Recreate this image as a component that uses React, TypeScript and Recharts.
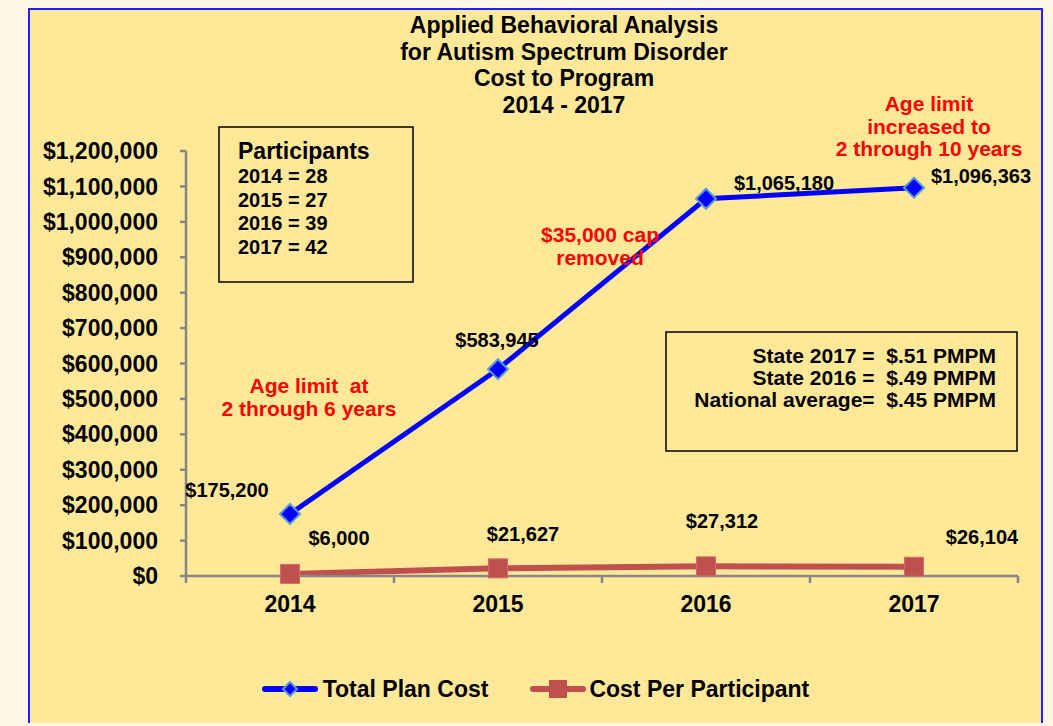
import React from 'react';
import { ComposedChart, Line, XAxis, YAxis, Legend } from 'recharts';

const years = ['2014', '2015', '2016', '2017'];
const totalPlanCost = [175200, 583945, 1065180, 1096363];
const costPerParticipant = [6000, 21627, 27312, 26104];
const yTicks = [0, 100000, 200000, 300000, 400000, 500000, 600000, 700000, 800000, 900000, 1000000, 1100000, 1200000];

const titleLines = ['Applied Behavioral Analysis', 'for Autism Spectrum Disorder', 'Cost to Program', '2014 - 2017'];
const participantLines = ['2014 = 28', '2015 = 27', '2016 = 39', '2017 = 42'];
const pmpmLines = ['State 2017 =  $.51 PMPM', 'State 2016 =  $.49 PMPM', 'National average=  $.45 PMPM'];
const note2014 = ['Age limit  at', '2 through 6 years'];
const noteCap = ['$35,000 cap', 'removed'];
const note2017 = ['Age limit', 'increased to', '2 through 10 years'];
const seriesOrder = ['total', 'perParticipant'];

const data = years.map((year, i) => ({
  year,
  total: totalPlanCost[i],
  perParticipant: costPerParticipant[i],
}));

// where each value label sits relative to its point (dx, baseline dy)
const totalLabelOffsets = [[-63, -17], [-1, -22], [78, -9], [67, -5]];
const perLabelOffsets = [[49, -29], [25, -27], [16, -38], [68, -23]];

const FONT = "'Liberation Sans', Arial, Helvetica, sans-serif";
const BLUE = '#0000FF';
const RED = '#C0504D';
const GREY = '#868686';
const X_TICK_MARGIN = 20;

const money = (v: number) => '$' + v.toLocaleString('en-US');

const Diamond = (props: any) => {
  const { cx, cy, index } = props;
  const r = 10;
  return (
    <polygon
      key={`dia-${index}`}
      points={`${cx},${cy - r} ${cx + r},${cy} ${cx},${cy + r} ${cx - r},${cy}`}
      fill={BLUE}
      stroke="#5B9BD5"
      strokeWidth={2}
    />
  );
};

const Square = (props: any) => {
  const { cx, cy, index } = props;
  const s = 19;
  return <rect key={`sq-${index}`} x={cx - s / 2} y={cy - s / 2} width={s} height={s} fill={RED} stroke="#D46A66" strokeWidth={1} />;
};

const makeLabel = (offsets: number[][]) => (props: any) => {
  const x = props.x ?? props.viewBox?.x;
  const y = props.y ?? props.viewBox?.y;
  const [dx, dy] = offsets[props.index] || [0, 0];
  return (
    <text key={`lbl-${props.index}`} x={x + dx} y={y + dy} textAnchor="middle" fontSize={20} fontWeight="bold" fill="#000">
      {money(props.value)}
    </text>
  );
};

// category label plus the small tick marks on the band boundaries (Excel style)
const YearTick = (props: any) => {
  const { x, y, payload, index, visibleTicksCount } = props;
  const half = payload.offset || 0;
  const axisY = y - X_TICK_MARGIN;
  const last = index === (visibleTicksCount ?? years.length) - 1;
  return (
    <g>
      <line x1={x - half} y1={axisY} x2={x - half} y2={axisY + 7} stroke={GREY} strokeWidth={2.5} />
      {last && <line x1={x + half} y1={axisY} x2={x + half} y2={axisY + 7} stroke={GREY} strokeWidth={2.5} />}
      <text x={x} y={y} dy="0.71em" textAnchor="middle" fontSize={23} fontWeight="bold" fill="#000">
        {payload.value}
      </text>
    </g>
  );
};

const LegendIcon = ({ kind }: { kind: string }) => (
  <svg width={56} height={20} style={{ display: 'block' }}>
    {kind === 'total' ? (
      <>
        <line x1={3} y1={10} x2={53} y2={10} stroke={BLUE} strokeWidth={6} strokeLinecap="round" />
        <polygon points="28,3 35,10 28,17 21,10" fill={BLUE} stroke="#5B9BD5" strokeWidth={2} />
      </>
    ) : (
      <>
        <line x1={3} y1={10} x2={53} y2={10} stroke={RED} strokeWidth={6} strokeLinecap="round" />
        <rect x={19} y={1} width={18} height={18} fill={RED} />
      </>
    )}
  </svg>
);

const renderLegend = (props: any) => {
  const items = [...(props.payload || [])].sort(
    (a: any, b: any) => seriesOrder.indexOf(a.dataKey) - seriesOrder.indexOf(b.dataKey)
  );
  return (
    <div style={{ display: 'flex', justifyContent: 'center', alignItems: 'center', height: 30, fontFamily: FONT, fontSize: 23, fontWeight: 'bold', color: '#000' }}>
      {items.map((it: any, i: number) => (
        <div key={it.dataKey} style={{ display: 'flex', alignItems: 'center', marginLeft: i === 0 ? 0 : 42 }}>
          <LegendIcon kind={it.dataKey} />
          <span style={{ marginLeft: i === 0 ? 5 : 3 }}>{it.value}</span>
        </div>
      ))}
    </div>
  );
};

const redText = (lines: string[], cx: number, y0: number, step: number, key: string) =>
  lines.map((t, i) => (
    <text key={`${key}-${i}`} x={cx} y={y0 + i * step} textAnchor="middle" fontSize={21} fill="#FF0000" style={{ whiteSpace: 'pre' }}>
      {t}
    </text>
  ));

export default function App() {
  return (
    <div style={{ position: 'absolute', left: 0, top: 0, width: 1053, height: 726, background: '#FFF7E4', fontFamily: FONT, overflow: 'hidden' }}>
      <div
        style={{
          position: 'absolute',
          left: 28,
          top: 8,
          width: 1015,
          height: 715,
          background: '#FFE999',
          borderTop: '2px solid #2020FF',
          borderLeft: '2px solid #2020FF',
          borderRight: '2px solid #2020FF',
          boxSizing: 'border-box',
        }}
      />
      <div style={{ position: 'absolute', left: 0, top: 0 }}>
        <ComposedChart width={1053} height={726} data={data} margin={{ top: 151, right: 35, bottom: 20, left: 36 }}>
          <XAxis
            dataKey="year"
            type="category"
            scale="band"
            height={100}
            axisLine={{ stroke: GREY, strokeWidth: 2.5 }}
            tickLine={false}
            tickSize={0}
            tickMargin={X_TICK_MARGIN}
            interval={0}
            tick={<YearTick />}
          />
          <YAxis
            domain={[0, 1200000]}
            ticks={yTicks}
            interval={0}
            tickFormatter={money}
            width={150}
            tickSize={6}
            tickMargin={22}
            axisLine={{ stroke: GREY, strokeWidth: 2.5 }}
            tickLine={{ stroke: GREY, strokeWidth: 2.5 }}
            tick={{ fill: '#000', fontSize: 23, fontWeight: 'bold' }}
          />
          <Legend
            content={renderLegend}
            wrapperStyle={{ position: 'absolute', left: 28, width: 1015, top: 674, height: 30 }}
          />
          <Line
            dataKey="total"
            name="Total Plan Cost"
            stroke={BLUE}
            strokeWidth={5}
            dot={Diamond}
            activeDot={false}
            label={makeLabel(totalLabelOffsets)}
            isAnimationActive={false}
          />
          <Line
            dataKey="perParticipant"
            name="Cost Per Participant"
            stroke={RED}
            strokeWidth={6}
            dot={Square}
            activeDot={false}
            label={makeLabel(perLabelOffsets)}
            isAnimationActive={false}
          />
        </ComposedChart>
      </div>
      <svg width={1053} height={726} style={{ position: 'absolute', left: 0, top: 0, pointerEvents: 'none' }} fontFamily={FONT} fontWeight="bold">
        {titleLines.map((t, i) => (
          <text key={`t-${i}`} x={564} y={33 + i * 26.5} textAnchor="middle" fontSize={23} fill="#000">
            {t}
          </text>
        ))}
        <rect x={219} y={127} width={194} height={155} fill="none" stroke="#000" strokeWidth={1.5} />
        <text x={238} y={159} fontSize={23} fill="#000">Participants</text>
        {participantLines.map((t, i) => (
          <text key={`p-${i}`} x={238} y={183 + i * 23.7} fontSize={20} fill="#000">
            {t}
          </text>
        ))}
        <rect x={666} y={332} width={351} height={119} fill="none" stroke="#000" strokeWidth={1.5} />
        {pmpmLines.map((t, i) => (
          <text key={`m-${i}`} x={996} y={363 + i * 22} textAnchor="end" fontSize={21} fill="#000" style={{ whiteSpace: 'pre' }}>
            {t}
          </text>
        ))}
        {redText(note2014, 309, 393, 23, 'n14')}
        {redText(noteCap, 600, 242, 23, 'cap')}
        {redText(note2017, 929, 111, 22.5, 'n17')}
      </svg>
    </div>
  );
}
